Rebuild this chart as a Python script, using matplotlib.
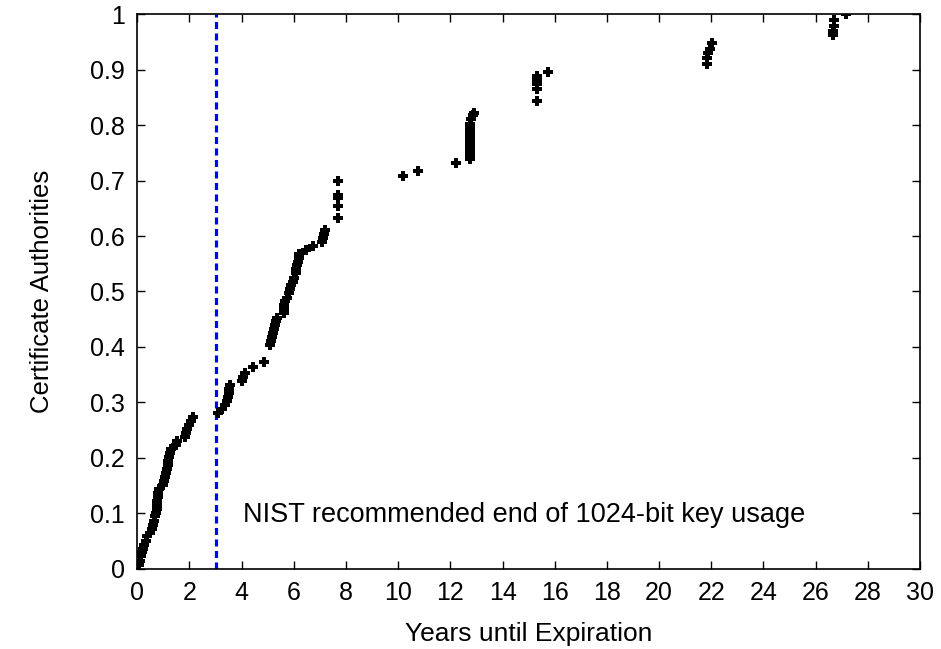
import matplotlib
matplotlib.use("Agg")
import matplotlib.pyplot as plt

plt.rcParams['font.family'] = ['Liberation Sans', 'DejaVu Sans']

# years until expiration of each CA key, and the cumulative fraction
years = [
    0.05, 0.10, 0.13, 0.18, 0.22, 0.27, 0.32, 0.38, 0.50, 0.57,
    0.60, 0.63, 0.66, 0.70, 0.74, 0.77, 0.77, 0.78, 0.78, 0.85,
    0.98, 1.03, 1.06, 1.10, 1.13, 1.16, 1.18, 1.20, 1.24, 1.28,
    1.48, 1.52, 1.82, 1.87, 1.92, 2.00, 2.06, 2.14,
    3.10, 3.25, 3.35, 3.42, 3.48, 3.50, 3.52, 3.55,
    4.02, 4.07, 4.12, 4.42, 4.87,
    5.08, 5.13, 5.18, 5.21, 5.25, 5.28, 5.32, 5.35,
    5.62, 5.63, 5.64, 5.66, 5.74, 5.80, 5.84, 5.90, 5.95, 6.01,
    6.07, 6.10, 6.14, 6.17, 6.18, 6.20, 6.48, 6.74, 7.07, 7.12,
    7.16, 7.18,
    7.69, 7.69, 7.69, 7.69, 7.69,
    10.18, 10.75, 12.22,
    12.74, 12.74, 12.74, 12.74, 12.74, 12.74, 12.74, 12.74, 12.74, 12.74,
    12.78, 12.85, 12.91,
    15.31, 15.31, 15.31, 15.31, 15.31, 15.73,
    21.82, 21.84, 21.88, 21.94, 22.04,
    26.68, 26.68, 26.70, 26.72, 27.16,
]
fraction = [
    0.007, 0.014, 0.022, 0.029, 0.036, 0.043, 0.050, 0.058, 0.065, 0.072,
    0.079, 0.086, 0.094, 0.101, 0.108, 0.115, 0.122, 0.129, 0.137, 0.144,
    0.151, 0.158, 0.165, 0.173, 0.180, 0.187, 0.194, 0.201, 0.209, 0.216,
    0.223, 0.230, 0.237, 0.245, 0.252, 0.259, 0.266, 0.273,
    0.281, 0.288, 0.295, 0.302, 0.310, 0.317, 0.324, 0.331,
    0.338, 0.345, 0.353, 0.364, 0.372,
    0.403, 0.410, 0.418, 0.425, 0.432, 0.439, 0.446, 0.453,
    0.461, 0.468, 0.475, 0.482, 0.489, 0.497, 0.504, 0.511, 0.518, 0.525,
    0.533, 0.540, 0.547, 0.554, 0.561, 0.568, 0.575, 0.583, 0.590, 0.597,
    0.604, 0.611,
    0.633, 0.655, 0.668, 0.675, 0.700,
    0.709, 0.717, 0.732,
    0.739, 0.746, 0.753, 0.760, 0.768, 0.775, 0.782, 0.789, 0.796, 0.803,
    0.811, 0.818, 0.823,
    0.844, 0.866, 0.874, 0.882, 0.889, 0.896,
    0.910, 0.922, 0.930, 0.937, 0.949,
    0.963, 0.971, 0.979, 0.990, 1.000,
]

nist_year = 3
xticks = list(range(0, 31, 2))
yticks = [0, 0.1, 0.2, 0.3, 0.4, 0.5, 0.6, 0.7, 0.8, 0.9, 1]
ytick_labels = ['0', '0.1', '0.2', '0.3', '0.4', '0.5', '0.6', '0.7', '0.8', '0.9', '1']

fig = plt.figure(figsize=(9.41, 6.49), dpi=100)
ax = fig.add_axes([0.1459, 0.124, 0.9777 - 0.1459, 0.9777 - 0.124])

# NIST cut-off line
ax.axvline(nist_year, color='#0000ff', linestyle=(0, (2.2, 1.4)), linewidth=2.3, zorder=1)
ax.plot(years, fraction, linestyle='none', marker='P', markersize=7.5,
        color='black', markeredgewidth=0, zorder=3)

ax.text(4.05, 0.096, 'NIST recommended end of 1024-bit key usage',
        fontsize=19.5, va='center', ha='left')

ax.set_xlim(0, 30)
ax.set_ylim(0, 1)
ax.set_xticks(xticks)
ax.set_xticklabels([str(t) for t in xticks])
ax.set_yticks(yticks)
ax.set_yticklabels(ytick_labels)
ax.tick_params(direction='in', length=6, width=1, labelsize=18,
               top=True, right=True, pad=9)
for s in ax.spines.values():
    s.set_linewidth(1.2)

ax.set_xlabel('Years until Expiration', fontsize=19, labelpad=12)
ax.set_ylabel('Certificate Authorities', fontsize=18.5, labelpad=26)

fig.savefig('out.png', dpi=100)
